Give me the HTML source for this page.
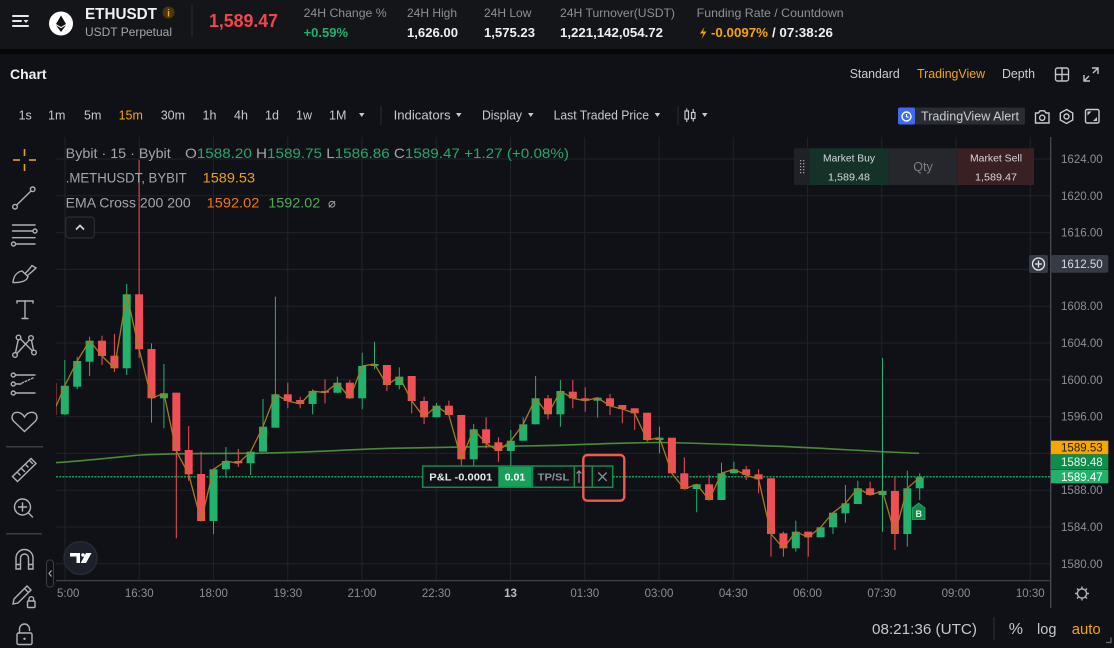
<!DOCTYPE html>
<html><head><meta charset="utf-8"><style>
html,body{margin:0;padding:0;background:#101116;width:1114px;height:648px;overflow:hidden}
svg{display:block}
text{font-family:"Liberation Sans","DejaVu Sans",sans-serif}
</style></head><body>
<svg width="1114" height="648" viewBox="0 0 1114 648" xmlns="http://www.w3.org/2000/svg">
<defs><clipPath id="cc"><rect x="56" y="137" width="994" height="444"/></clipPath></defs>
<rect width="1114" height="648" fill="#101116"/>
<rect width="1114" height="49" fill="#141519"/>
<rect y="49" width="1114" height="5" fill="#060709"/>

<!-- Header -->
<g stroke="#e5e7eb" stroke-width="2" stroke-linecap="round">
<line x1="13" y1="16" x2="28" y2="16"/><line x1="13" y1="21" x2="21" y2="21"/><line x1="13" y1="26" x2="28" y2="26"/></g>
<path d="M23.5 20 L28.5 20 L26 23 Z" fill="#e5e7eb"/>
<circle cx="61" cy="23.5" r="12" fill="#fff"/>
<path d="M61 15.5 L66 24 L61 27 L56 24 Z M61 28.3 L66 25.3 L61 32 L56 25.3 Z" fill="#111"/>
<text x="85" y="19" font-size="16" font-weight="bold" fill="#eef0f3" textLength="72" lengthAdjust="spacingAndGlyphs">ETHUSDT</text>
<circle cx="168.5" cy="12.5" r="6" fill="#4a3708"/>
<text x="168.5" y="16.3" font-size="10" font-weight="bold" fill="#f7a600" text-anchor="middle">i</text>
<text x="85" y="36" font-size="12" fill="#a3a6ad" textLength="87" lengthAdjust="spacingAndGlyphs">USDT Perpetual</text>
<rect x="191.5" y="5" width="1" height="32" fill="#2a2c33"/>
<text x="209" y="27" font-size="18" font-weight="bold" fill="#f0474f" textLength="69" lengthAdjust="spacingAndGlyphs">1,589.47</text>
<g font-size="12" fill="#8d9097">
<text x="303.6" y="17" textLength="83" lengthAdjust="spacingAndGlyphs">24H Change %</text>
<text x="407" y="17">24H High</text>
<text x="484" y="17">24H Low</text>
<text x="560" y="17" textLength="115" lengthAdjust="spacingAndGlyphs">24H Turnover(USDT)</text>
<text x="696.7" y="17" textLength="147" lengthAdjust="spacingAndGlyphs">Funding Rate / Countdown</text>
</g>
<g font-size="13" font-weight="bold" fill="#eef0f3">
<text x="303.6" y="37" fill="#20b26c">+0.59%</text>
<text x="407" y="37" textLength="51" lengthAdjust="spacingAndGlyphs">1,626.00</text>
<text x="484" y="37" textLength="51" lengthAdjust="spacingAndGlyphs">1,575.23</text>
<text x="560" y="37" textLength="103" lengthAdjust="spacingAndGlyphs">1,221,142,054.72</text>
<text x="711" y="37" fill="#f7a600" textLength="57" lengthAdjust="spacingAndGlyphs">-0.0097%</text>
<text x="772" y="37" textLength="61" lengthAdjust="spacingAndGlyphs">/ 07:38:26</text>
</g>
<path d="M704.5 27 L700 33.5 L703.5 33.5 L701.5 39 L706.5 31.5 L703 31.5 Z" fill="#f7a600"/>

<!-- Chart panel header -->
<text x="10" y="79" font-size="14" font-weight="bold" fill="#f0f1f3">Chart</text>
<g font-size="12.5">
<text x="849.7" y="78" fill="#c9ccd1" textLength="50" lengthAdjust="spacingAndGlyphs">Standard</text>
<text x="917" y="78" fill="#f7a600" textLength="68" lengthAdjust="spacingAndGlyphs">TradingView</text>
<text x="1002" y="78" fill="#c9ccd1" textLength="33" lengthAdjust="spacingAndGlyphs">Depth</text>
</g>
<g fill="none" stroke="#c0c3c8" stroke-width="1.4">
<rect x="1055.5" y="68" width="13" height="13" rx="2"/><line x1="1062" y1="68" x2="1062" y2="81"/><line x1="1055.5" y1="74.5" x2="1068.5" y2="74.5"/>
<path d="M1092 68 L1098 68 L1098 74 M1098 68 L1093 73 M1090 81 L1084 81 L1084 75 M1084 81 L1089 76"/>
</g>

<!-- Toolbar -->
<g font-size="12.5" fill="#c6c9ce">
<text x="18.6" y="119.5">1s</text>
<text x="48" y="119.5">1m</text>
<text x="84" y="119.5">5m</text>
<text x="118.6" y="119.5" fill="#f7a600">15m</text>
<text x="160.7" y="119.5">30m</text>
<text x="202.5" y="119.5">1h</text>
<text x="234" y="119.5">4h</text>
<text x="265" y="119.5">1d</text>
<text x="296" y="119.5">1w</text>
<text x="329" y="119.5">1M</text>
<text x="393.6" y="119.5" textLength="57" lengthAdjust="spacingAndGlyphs">Indicators</text>
<text x="482" y="119.5" textLength="40" lengthAdjust="spacingAndGlyphs">Display</text>
<text x="553.6" y="119.5" textLength="95.4" lengthAdjust="spacingAndGlyphs">Last Traded Price</text>
</g>
<g fill="#c6c9ce">
<path d="M359 113 L364.5 113 L361.75 117 Z"/><path d="M456 113 L461.5 113 L458.75 117 Z"/><path d="M528 113 L533.5 113 L530.75 117 Z"/><path d="M654.7 113 L660.2 113 L657.45 117 Z"/><path d="M702 113 L707.5 113 L704.75 117 Z"/>
</g>
<rect x="380.5" y="106" width="1" height="19" fill="#2a2d35"/>
<rect x="677.5" y="106" width="1" height="19" fill="#2a2d35"/>
<g fill="none" stroke="#c6c9ce" stroke-width="1.2">
<rect x="685" y="111" width="3.5" height="8"/><line x1="686.75" y1="108.5" x2="686.75" y2="111"/><line x1="686.75" y1="119" x2="686.75" y2="122"/>
<rect x="691.5" y="112.5" width="3.5" height="6"/><line x1="693.25" y1="109" x2="693.25" y2="112.5"/><line x1="693.25" y1="118.5" x2="693.25" y2="121.5"/>
</g>
<rect x="898" y="107.5" width="127" height="17" rx="2" fill="#2a2c33"/>
<rect x="898" y="107.5" width="17" height="17" rx="2" fill="#3b6cf0"/>
<circle cx="906.5" cy="116.5" r="4.5" fill="none" stroke="#fff" stroke-width="1.4"/>
<path d="M906.5 114 L906.5 116.5 L908.5 117.5" stroke="#fff" stroke-width="1.2" fill="none"/>
<text x="921" y="120.3" font-size="12.5" fill="#c9ccd1" textLength="98" lengthAdjust="spacingAndGlyphs">TradingView Alert</text>
<g fill="none" stroke="#c6c9ce" stroke-width="1.4">
<path d="M1035.5 113 L1038.5 113 L1040 110.8 L1044.5 110.8 L1046 113 L1049 113 L1049 123 L1035.5 123 Z"/><circle cx="1042.2" cy="117.8" r="2.6"/>
<path d="M1066.5 109.5 L1072.7 113 L1072.7 120 L1066.5 123.5 L1060.3 120 L1060.3 113 Z"/><circle cx="1066.5" cy="116.5" r="2.5"/>
<rect x="1085.5" y="109.5" width="13.5" height="13.5" rx="1.5"/>
</g>
<path d="M1087.5 111.5 L1091.5 111.5 L1087.5 115.5 Z M1097 121 L1093 121 L1097 117 Z" fill="#c6c9ce"/>

<!-- Left toolbar -->
<g stroke="#e8a317" stroke-width="1.6">
<line x1="24.5" y1="149" x2="24.5" y2="156"/><line x1="24.5" y1="164" x2="24.5" y2="171"/><line x1="13" y1="160" x2="20" y2="160"/><line x1="29" y1="160" x2="36" y2="160"/>
</g>
<g fill="none" stroke="#aeb1b8" stroke-width="1.4" stroke-linecap="round">
<circle cx="32.7" cy="189.3" r="2.3"/><circle cx="15" cy="206.7" r="2.3"/><line x1="16.7" y1="205" x2="31" y2="191"/>
<line x1="12.5" y1="225" x2="35" y2="225"/><line x1="12.5" y1="231" x2="32.5" y2="231"/><circle cx="35" cy="231" r="2"/>
<line x1="12.5" y1="237.7" x2="35" y2="237.7"/><circle cx="13.5" cy="244" r="2"/><line x1="15.8" y1="244" x2="35" y2="244"/>
<path d="M13 282.5 C13.5 276 17 272 22 271 L28 276.5 C27 281 20.5 283 13 282.5 Z"/><path d="M25.5 273 C28 271 30 268 32 265.5 L36 268 C33 271 30 273.5 28 275"/>
<line x1="17" y1="301" x2="33" y2="301"/><line x1="25" y1="301" x2="25" y2="318.5"/><line x1="22" y1="318.5" x2="28" y2="318.5"/><line x1="17" y1="301" x2="17" y2="303"/><line x1="33" y1="301" x2="33" y2="303"/>
<circle cx="15" cy="355" r="2.3"/><circle cx="18.5" cy="337.5" r="2.3"/><circle cx="31" cy="338" r="2.3"/><circle cx="34" cy="352.5" r="2.3"/>
<path d="M15.5 352.8 L18.2 339.8 M20.5 339 L32 350.5 M16.8 353.6 L29.5 339.8 M31.5 340.3 L33.5 350.2"/>
<circle cx="13.3" cy="375" r="2"/><line x1="15.5" y1="375" x2="35" y2="375"/><circle cx="13.3" cy="384" r="2"/><line x1="15.5" y1="384" x2="21" y2="384"/><path d="M22 383 L33 378" stroke-dasharray="1.5 2"/><circle cx="13.3" cy="393" r="2"/><line x1="15.5" y1="393" x2="35" y2="393"/>
<path d="M24.5 431.5 L14 421.5 C10.5 418 12 412.5 17 412.3 C20.5 412.2 23 414.5 24.5 417 C26 414.5 28.5 412.2 32 412.3 C37 412.5 38.5 418 35 421.5 Z"/>
<path d="M12.5 476.5 L31 458.5 L36 463.5 L17.5 481.5 Z M18 473 L20 475 M22 469 L24.5 471.5 M26 465 L28 467 M30 461 L32.5 463.5"/>
<circle cx="22.5" cy="507" r="8"/><line x1="28.5" y1="513" x2="32.5" y2="517"/><line x1="22.5" y1="503" x2="22.5" y2="511"/><line x1="18.5" y1="507" x2="26.5" y2="507"/>
<path d="M16 569 L16 558 A8.5 8.5 0 0 1 33 558 L33 569 L28.5 569 L28.5 558 A4 4 0 0 0 20.5 558 L20.5 569 Z M16 564.5 L20.5 564.5 M28.5 564.5 L33 564.5"/>
<path d="M13 604 L14 599 L27 586 L31 590 L18 603 Z M24.5 588.5 L28.5 592.5"/>
<rect x="27.5" y="601" width="7.5" height="6.5" rx="1"/><path d="M29 601 L29 599 A2.3 2.3 0 0 1 33.6 599 L33.6 601"/>
<rect x="17" y="633" width="15" height="11.5" rx="1.5"/><path d="M19.5 633 L19.5 629 A5 5 0 0 1 29.5 629 L29.5 630.5"/>
</g>
<circle cx="24.5" cy="638.8" r="1.2" fill="#aeb1b8"/>
<rect x="6" y="446" width="37" height="1.5" fill="#3a3d45"/>
<rect x="6" y="533" width="36" height="1.5" fill="#3a3d45"/>
<rect x="46.5" y="560" width="7" height="27" rx="3" fill="none" stroke="#3a3d45"/>
<path d="M51.5 570.5 L49 573.5 L51.5 576.5" fill="none" stroke="#aeb1b8" stroke-width="1.1"/>

<!-- Chart -->
<g clip-path="url(#cc)">
<g stroke="#1f2229" stroke-width="1">
<line x1="56" y1="159" x2="1050" y2="159"/><line x1="56" y1="195.8" x2="1050" y2="195.8"/><line x1="56" y1="232.6" x2="1050" y2="232.6"/><line x1="56" y1="269.4" x2="1050" y2="269.4"/><line x1="56" y1="306.2" x2="1050" y2="306.2"/><line x1="56" y1="343" x2="1050" y2="343"/><line x1="56" y1="379.8" x2="1050" y2="379.8"/><line x1="56" y1="416.6" x2="1050" y2="416.6"/><line x1="56" y1="453.4" x2="1050" y2="453.4"/><line x1="56" y1="490.2" x2="1050" y2="490.2"/><line x1="56" y1="527" x2="1050" y2="527"/><line x1="56" y1="563.8" x2="1050" y2="563.8"/>
<line x1="65" y1="137" x2="65" y2="581"/><line x1="139.25" y1="137" x2="139.25" y2="581"/><line x1="213.5" y1="137" x2="213.5" y2="581"/><line x1="287.75" y1="137" x2="287.75" y2="581"/><line x1="362" y1="137" x2="362" y2="581"/><line x1="436.25" y1="137" x2="436.25" y2="581"/><line x1="510.5" y1="137" x2="510.5" y2="581"/><line x1="584.75" y1="137" x2="584.75" y2="581"/><line x1="659" y1="137" x2="659" y2="581"/><line x1="733.25" y1="137" x2="733.25" y2="581"/><line x1="807.5" y1="137" x2="807.5" y2="581"/><line x1="881.75" y1="137" x2="881.75" y2="581"/><line x1="956" y1="137" x2="956" y2="581"/><line x1="1030.25" y1="137" x2="1030.25" y2="581"/>
</g>
<path d="M56 462.7 C75 461.5 95 459.6 140 455 C170 453.5 200 453.3 250 453.3 C300 453 340 450 390 448.3 C450 446.8 500 446 540 445.7 C590 444.5 630 442.5 660 442.5 C700 443 740 445 780 446.3 C830 448.5 880 452 919 453.3" fill="none" stroke="#4a8a3a" stroke-width="1.6"/>
<line x1="56" y1="476.7" x2="1050" y2="476.7" stroke="#1a9f5a" stroke-width="1.5" stroke-dasharray="2 1.2"/>
<g fill="#23b26d">
<rect x="60.8" y="385.7" width="8" height="28.6"/><rect x="64.3" y="360" width="1" height="55"/>
<rect x="73.2" y="361" width="8" height="25.7"/><rect x="76.7" y="356.7" width="1" height="32.3"/>
<rect x="85.6" y="340.7" width="8" height="21"/><rect x="89.1" y="336.7" width="1" height="39.3"/>
<rect x="122.7" y="294.3" width="8" height="74"/><rect x="126.2" y="284" width="1" height="91"/>
<rect x="159.9" y="393.3" width="8" height="5"/><rect x="163.4" y="364" width="1" height="64.3"/>
<rect x="209.5" y="469.3" width="8" height="51.7"/><rect x="213" y="469" width="1" height="65"/>
<rect x="221.9" y="461" width="8" height="8.3"/><rect x="225.4" y="447" width="1" height="31"/>
<rect x="246.6" y="451.7" width="8" height="11.6"/><rect x="250.1" y="451.7" width="1" height="23.3"/>
<rect x="259" y="426.7" width="8" height="25"/><rect x="262.5" y="399" width="1" height="52.7"/>
<rect x="271.4" y="394.3" width="8" height="33.4"/><rect x="274.9" y="296.7" width="1" height="131"/>
<rect x="308.6" y="391" width="8" height="13"/><rect x="312.1" y="389.3" width="1" height="25"/>
<rect x="333.4" y="382.7" width="8" height="10"/><rect x="336.9" y="376.7" width="1" height="16.6"/>
<rect x="358.2" y="366" width="8" height="32.3"/><rect x="361.7" y="352.7" width="1" height="56.6"/>
<rect x="370.5" y="364" width="8" height="2"/><rect x="374" y="341.7" width="1" height="27.6"/>
<rect x="395.3" y="376.7" width="8" height="8.3"/><rect x="398.8" y="367.3" width="1" height="22"/>
<rect x="432.5" y="405.7" width="8" height="11.6"/><rect x="436" y="403" width="1" height="14.3"/>
<rect x="469.7" y="429.3" width="8" height="30"/><rect x="473.2" y="424" width="1" height="42"/>
<rect x="506.8" y="440.7" width="8" height="10.3"/><rect x="510.3" y="430" width="1" height="36.7"/>
<rect x="519.2" y="424.3" width="8" height="16.4"/><rect x="522.7" y="417.3" width="1" height="23.4"/>
<rect x="531.6" y="398.3" width="8" height="26"/><rect x="535.1" y="376" width="1" height="48.3"/>
<rect x="556.4" y="391" width="8" height="23.3"/><rect x="559.9" y="380" width="1" height="46.7"/>
<rect x="593.6" y="397.7" width="8" height="3"/><rect x="597.1" y="397.7" width="1" height="20"/>
<rect x="655.5" y="437.7" width="8" height="2.3"/><rect x="659" y="426.7" width="1" height="26.6"/>
<rect x="692.7" y="484.3" width="8" height="4.7"/><rect x="696.2" y="484.3" width="1" height="28"/>
<rect x="717.5" y="473.3" width="8" height="26.7"/><rect x="721" y="462.7" width="1" height="37.3"/>
<rect x="729.9" y="469.3" width="8" height="4"/><rect x="733.4" y="461.7" width="1" height="11.6"/>
<rect x="791.8" y="531.7" width="8" height="16.6"/><rect x="795.3" y="520.7" width="1" height="31"/>
<rect x="816.6" y="527.3" width="8" height="10"/><rect x="820.1" y="527.3" width="1" height="10"/>
<rect x="829" y="512.7" width="8" height="14.6"/><rect x="832.5" y="512.7" width="1" height="21.3"/>
<rect x="841.4" y="503.3" width="8" height="10"/><rect x="844.9" y="485" width="1" height="37.7"/>
<rect x="853.8" y="488.3" width="8" height="15.7"/><rect x="857.3" y="480.7" width="1" height="23.3"/>
<rect x="878.5" y="491" width="8" height="4"/><rect x="882" y="358" width="1" height="173.7"/>
<rect x="903.3" y="488.3" width="8" height="45.7"/><rect x="906.8" y="470.7" width="1" height="76"/>
<rect x="915.7" y="477.3" width="8" height="11"/><rect x="919.2" y="473.3" width="1" height="26.7"/>
</g>
<g fill="#f04f56">
<rect x="48.4" y="383" width="8" height="32"/><rect x="51.9" y="380" width="1" height="40"/>
<rect x="98" y="340.7" width="8" height="15.3"/><rect x="101.5" y="335.7" width="1" height="29.3"/>
<rect x="110.4" y="355.7" width="8" height="12.6"/><rect x="113.9" y="334" width="1" height="38"/>
<rect x="135.1" y="294.3" width="8" height="55"/><rect x="138.6" y="160" width="1" height="198"/>
<rect x="147.5" y="349" width="8" height="49.3"/><rect x="151" y="343.3" width="1" height="79.4"/>
<rect x="172.3" y="392.7" width="8" height="58.3"/><rect x="175.8" y="392.7" width="1" height="145.6"/>
<rect x="184.7" y="450" width="8" height="24.3"/><rect x="188.2" y="426" width="1" height="54.7"/>
<rect x="197.1" y="474" width="8" height="47"/><rect x="200.6" y="451.7" width="1" height="69.3"/>
<rect x="234.3" y="461" width="8" height="2.3"/><rect x="237.8" y="449" width="1" height="18"/>
<rect x="283.8" y="394.3" width="8" height="6.7"/><rect x="287.3" y="382.7" width="1" height="25.6"/>
<rect x="296.2" y="400" width="8" height="4"/><rect x="299.7" y="396.7" width="1" height="11.6"/>
<rect x="321" y="391" width="8" height="1.7"/><rect x="324.5" y="379.3" width="1" height="24"/>
<rect x="345.8" y="382.7" width="8" height="15.6"/><rect x="349.3" y="380" width="1" height="18.3"/>
<rect x="382.9" y="365" width="8" height="20"/><rect x="386.4" y="365" width="1" height="26"/>
<rect x="407.7" y="376" width="8" height="25"/><rect x="411.2" y="376" width="1" height="37.3"/>
<rect x="420.1" y="401" width="8" height="16.3"/><rect x="423.6" y="396.7" width="1" height="27.3"/>
<rect x="444.9" y="405.7" width="8" height="9.3"/><rect x="448.4" y="400.7" width="1" height="14.3"/>
<rect x="457.3" y="415" width="8" height="44.3"/><rect x="460.8" y="415" width="1" height="51"/>
<rect x="482.1" y="429.3" width="8" height="14"/><rect x="485.6" y="417.3" width="1" height="31"/>
<rect x="494.4" y="442.3" width="8" height="8.7"/><rect x="497.9" y="437.3" width="1" height="24.4"/>
<rect x="544" y="398.3" width="8" height="16"/><rect x="547.5" y="395" width="1" height="24.3"/>
<rect x="568.8" y="391.7" width="8" height="6.6"/><rect x="572.3" y="380" width="1" height="28.3"/>
<rect x="581.2" y="398.3" width="8" height="2.4"/><rect x="584.7" y="387.3" width="1" height="24.4"/>
<rect x="606" y="398.3" width="8" height="7.7"/><rect x="609.5" y="394" width="1" height="21"/>
<rect x="618.3" y="405" width="8" height="4"/><rect x="621.8" y="405" width="1" height="18.3"/>
<rect x="630.7" y="408.3" width="8" height="5"/><rect x="634.2" y="408.3" width="1" height="21.7"/>
<rect x="643.1" y="412.7" width="8" height="27.3"/><rect x="646.6" y="412.7" width="1" height="29"/>
<rect x="667.9" y="437.7" width="8" height="35.6"/><rect x="671.4" y="437.7" width="1" height="35.6"/>
<rect x="680.3" y="473.3" width="8" height="15.7"/><rect x="683.8" y="457.3" width="1" height="31.7"/>
<rect x="705.1" y="484.3" width="8" height="15.7"/><rect x="708.6" y="475" width="1" height="25"/>
<rect x="742.2" y="469.3" width="8" height="5.7"/><rect x="745.7" y="466" width="1" height="14"/>
<rect x="754.6" y="474.3" width="8" height="5"/><rect x="758.1" y="469.3" width="1" height="24"/>
<rect x="767" y="478.3" width="8" height="55.7"/><rect x="770.5" y="478.3" width="1" height="78.4"/>
<rect x="779.4" y="533.3" width="8" height="15"/><rect x="782.9" y="531.7" width="1" height="25"/>
<rect x="804.2" y="531.7" width="8" height="5.6"/><rect x="807.7" y="531.7" width="1" height="25"/>
<rect x="866.1" y="488.3" width="8" height="6.7"/><rect x="869.6" y="481.7" width="1" height="13.3"/>
<rect x="890.9" y="491" width="8" height="43"/><rect x="894.4" y="477.3" width="1" height="72.7"/>
</g>
<polyline fill="none" stroke="#a87a20" stroke-width="1.3" stroke-linejoin="round" points="52.4,415 64.8,385.7 77.2,361 89.6,340.7 102,356 114.4,368.3 126.7,294.3 139.1,349.3 151.5,398.3 163.9,393.3 176.3,451 188.7,474.3 201.1,521 213.5,469.3 225.9,461 238.3,463.3 250.6,451.7 263,426.7 275.4,394.3 287.8,401 300.2,404 312.6,391 325,392.7 337.4,382.7 349.8,398.3 362.2,366 374.5,364 386.9,385 399.3,376.7 411.7,401 424.1,417.3 436.5,405.7 448.9,415 461.3,459.3 473.7,429.3 486.1,443.3 498.4,451 510.8,440.7 523.2,424.3 535.6,398.3 548,414.3 560.4,391 572.8,398.3 585.2,400.7 597.6,397.7 610,406 622.3,409 634.7,413.3 647.1,440 659.5,437.7 671.9,473.3 684.3,489 696.7,484.3 709.1,500 721.5,473.3 733.9,469.3 746.2,475 758.6,479.3 771,534 783.4,548.3 795.8,531.7 808.2,537.3 820.6,527.3 833,512.7 845.4,503.3 857.8,488.3 870.1,495 882.5,491 894.9,534 907.3,488.3 919.7,477.3"/>
<path d="M912.3 508 L918.7 503 L925 508 L925 519.5 L912.3 519.5 Z" fill="#16864a" stroke="#1fb26c" stroke-width="0.8"/>
<text x="918.7" y="517" font-size="9" font-weight="bold" fill="#d6f5e2" text-anchor="middle" font-family="Liberation Serif, serif">B</text>
</g>

<!-- P&L widget -->
<rect x="422.7" y="466" width="190" height="21.3" fill="#0f1317" stroke="#16894c" stroke-width="1.5"/>
<rect x="498.3" y="466.7" width="33.4" height="20" fill="#18a05a"/>
<g stroke="#16894c" stroke-width="1.5"><line x1="532.5" y1="466" x2="532.5" y2="487.3"/><line x1="574.3" y1="466" x2="574.3" y2="487.3"/><line x1="592.3" y1="466" x2="592.3" y2="487.3"/></g>
<text x="429.3" y="480.3" font-size="10.5" font-weight="bold" fill="#e6e8ea" textLength="63" lengthAdjust="spacingAndGlyphs">P&amp;L -0.0001</text>
<text x="515" y="480.3" font-size="10.5" font-weight="bold" fill="#fff" text-anchor="middle">0.01</text>
<text x="537.7" y="480.3" font-size="10.5" font-weight="bold" fill="#8e9197" textLength="31.6" lengthAdjust="spacingAndGlyphs">TP/SL</text>
<path d="M579 483 L579 471 M576.5 473.5 L579 471 L581.5 473.5 M584 471 L584 483" stroke="#8e9197" stroke-width="1.2" fill="none"/>
<path d="M598.3 472.5 L606.7 480.9 M606.7 472.5 L598.3 480.9" stroke="#8e9197" stroke-width="1.3"/>
<rect x="583.3" y="455" width="41" height="45.7" rx="4" fill="none" stroke="#ee5a50" stroke-width="2.4"/>

<!-- Legend -->
<g font-size="14" fill="#a3a6ad">
<text x="65.7" y="158" textLength="105" lengthAdjust="spacingAndGlyphs">Bybit · 15 · Bybit</text>
<text x="185" y="158" textLength="384" lengthAdjust="spacingAndGlyphs">O<tspan fill="#22ab6a">1588.20</tspan> H<tspan fill="#22ab6a">1589.75</tspan> L<tspan fill="#22ab6a">1586.86</tspan> C<tspan fill="#22ab6a">1589.47 +1.27 (+0.08%)</tspan></text>
<text x="65.7" y="182.3" textLength="121" lengthAdjust="spacingAndGlyphs">.METHUSDT, BYBIT</text>
<text x="202.7" y="182.3" fill="#e8a317" textLength="52.3" lengthAdjust="spacingAndGlyphs">1589.53</text>
<text x="65.7" y="207.5" textLength="125" lengthAdjust="spacingAndGlyphs">EMA Cross 200 200</text>
<text x="206.7" y="207.5" fill="#f07a0c" textLength="52.6" lengthAdjust="spacingAndGlyphs">1592.02</text>
<text x="268.3" y="207.5" fill="#4caf50" textLength="52" lengthAdjust="spacingAndGlyphs">1592.02</text>
<text x="328" y="207.5" font-size="13">⌀</text>
</g>
<rect x="65.7" y="217" width="28.6" height="21" rx="3" fill="#131419" stroke="#2a2e37" stroke-width="1.2"/>
<path d="M76 229.5 L80 225.5 L84 229.5" fill="none" stroke="#d0d3d8" stroke-width="1.8"/>

<!-- Market widget -->
<rect x="794" y="148.3" width="16" height="36.7" fill="#1f2127"/>
<rect x="810" y="148.3" width="78.3" height="36.7" fill="#153228"/>
<rect x="888.3" y="148.3" width="69.4" height="36.7" fill="#25272d"/>
<rect x="957.7" y="148.3" width="76.3" height="36.7" fill="#3a1f23"/>
<g fill="#9a9da3"><rect x="800" y="160" width="1.3" height="1.3"/><rect x="803" y="160" width="1.3" height="1.3"/><rect x="800" y="163" width="1.3" height="1.3"/><rect x="803" y="163" width="1.3" height="1.3"/><rect x="800" y="166" width="1.3" height="1.3"/><rect x="803" y="166" width="1.3" height="1.3"/><rect x="800" y="169" width="1.3" height="1.3"/><rect x="803" y="169" width="1.3" height="1.3"/><rect x="800" y="172" width="1.3" height="1.3"/><rect x="803" y="172" width="1.3" height="1.3"/></g>
<g font-size="10.5" fill="#d5d8dc" text-anchor="middle">
<text x="849" y="161.5" textLength="52" lengthAdjust="spacingAndGlyphs">Market Buy</text>
<text x="849" y="180.5" textLength="42" lengthAdjust="spacingAndGlyphs">1,589.48</text>
<text x="996" y="161.5" textLength="52" lengthAdjust="spacingAndGlyphs">Market Sell</text>
<text x="996" y="180.5" textLength="42" lengthAdjust="spacingAndGlyphs">1,589.47</text>
</g>
<text x="923" y="171" font-size="12.5" fill="#7c7f86" text-anchor="middle">Qty</text>

<!-- TV logo -->
<circle cx="80.5" cy="558" r="16.5" fill="#1d202a" stroke="#262a35" stroke-width="1.5"/>
<path d="M70 553 L80 553 L80 563 L76.5 563 L76.5 556.5 L70 556.5 Z" fill="#fff"/>
<circle cx="83" cy="555" r="1.8" fill="#fff"/>
<path d="M86 553 L91.5 553 L86 563 L80.8 563 Z" fill="#fff"/>

<!-- Axes -->
<rect x="56" y="580" width="994" height="1.3" fill="#3d4049"/>
<rect x="1050" y="137" width="1.3" height="471" fill="#474a52"/>
<g font-size="11.5" fill="#8b8e94">
<text x="1061" y="163" textLength="41.7" lengthAdjust="spacingAndGlyphs">1624.00</text>
<text x="1061" y="200" textLength="41.7" lengthAdjust="spacingAndGlyphs">1620.00</text>
<text x="1061" y="236.6" textLength="41.7" lengthAdjust="spacingAndGlyphs">1616.00</text>
<text x="1061" y="310.2" textLength="41.7" lengthAdjust="spacingAndGlyphs">1608.00</text>
<text x="1061" y="347" textLength="41.7" lengthAdjust="spacingAndGlyphs">1604.00</text>
<text x="1061" y="383.8" textLength="41.7" lengthAdjust="spacingAndGlyphs">1600.00</text>
<text x="1061" y="420.6" textLength="41.7" lengthAdjust="spacingAndGlyphs">1596.00</text>
<text x="1061" y="494.2" textLength="41.7" lengthAdjust="spacingAndGlyphs">1588.00</text>
<text x="1061" y="531" textLength="41.7" lengthAdjust="spacingAndGlyphs">1584.00</text>
<text x="1061" y="567.8" textLength="41.7" lengthAdjust="spacingAndGlyphs">1580.00</text>
</g>
<rect x="1051" y="255" width="57.3" height="17.7" rx="2" fill="#363a45"/>
<text x="1061" y="268" font-size="11.5" fill="#d7dae0" textLength="41.7" lengthAdjust="spacingAndGlyphs">1612.50</text>
<rect x="1029" y="255" width="19" height="18" rx="2" fill="#363a45"/>
<circle cx="1038.5" cy="264" r="6" fill="none" stroke="#e6e8ea" stroke-width="1.3"/>
<path d="M1038.5 260.5 L1038.5 267.5 M1035 264 L1042 264" stroke="#e6e8ea" stroke-width="1.3"/>
<rect x="1051" y="440.7" width="57.3" height="13.6" fill="#f7a600"/>
<text x="1061" y="451.6" font-size="11.5" fill="#1a1a1a" textLength="41.7" lengthAdjust="spacingAndGlyphs">1589.53</text>
<rect x="1051" y="454.3" width="57.3" height="15.3" fill="#0f8d4e"/>
<text x="1061" y="466.2" font-size="11.5" fill="#eaf7ef" textLength="41.7" lengthAdjust="spacingAndGlyphs">1589.48</text>
<rect x="1051" y="470" width="57.3" height="13.3" fill="#20b26c"/>
<text x="1061" y="481" font-size="11.5" fill="#ffffff" textLength="41.7" lengthAdjust="spacingAndGlyphs">1589.47</text>

<g font-size="11.5" fill="#8b8e94" text-anchor="middle">
<text x="57" y="597" text-anchor="start">5:00</text>
<text x="139.25" y="597">16:30</text>
<text x="213.5" y="597">18:00</text>
<text x="287.75" y="597">19:30</text>
<text x="362" y="597">21:00</text>
<text x="436.25" y="597">22:30</text>
<text x="510.5" y="597" font-weight="bold" fill="#b9bcc2">13</text>
<text x="584.75" y="597">01:30</text>
<text x="659" y="597">03:00</text>
<text x="733.25" y="597">04:30</text>
<text x="807.5" y="597">06:00</text>
<text x="881.75" y="597">07:30</text>
<text x="956" y="597">09:00</text>
<text x="1030.25" y="597">10:30</text>
</g>
<g stroke="#b0b3b9" stroke-width="1.4" fill="none">
<circle cx="1082" cy="593.5" r="4.6"/>
<path d="M1082 586.5 L1082 588.5 M1082 598.5 L1082 600.5 M1075 593.5 L1077 593.5 M1087 593.5 L1089 593.5 M1077 588.5 L1078.4 589.9 M1085.6 597.1 L1087 598.5 M1087 588.5 L1085.6 589.9 M1078.4 597.1 L1077 598.5"/>
</g>

<!-- Bottom bar -->
<text x="872" y="634" font-size="15" fill="#c5c8cd" textLength="105" lengthAdjust="spacingAndGlyphs">08:21:36 (UTC)</text>
<rect x="993.5" y="617" width="1" height="23" fill="#2e3138"/>
<text x="1008.8" y="634" font-size="16" fill="#c5c8cd">%</text>
<text x="1037" y="634" font-size="15" fill="#c5c8cd" textLength="19.5" lengthAdjust="spacingAndGlyphs">log</text>
<text x="1071.7" y="634" font-size="15" fill="#f7a600" textLength="29" lengthAdjust="spacingAndGlyphs">auto</text>
<path d="M1106 642.5 L1111 642.5 L1111 637.5" stroke="#6b6e75" stroke-width="1.2" fill="none"/>
</svg>
</body></html>
